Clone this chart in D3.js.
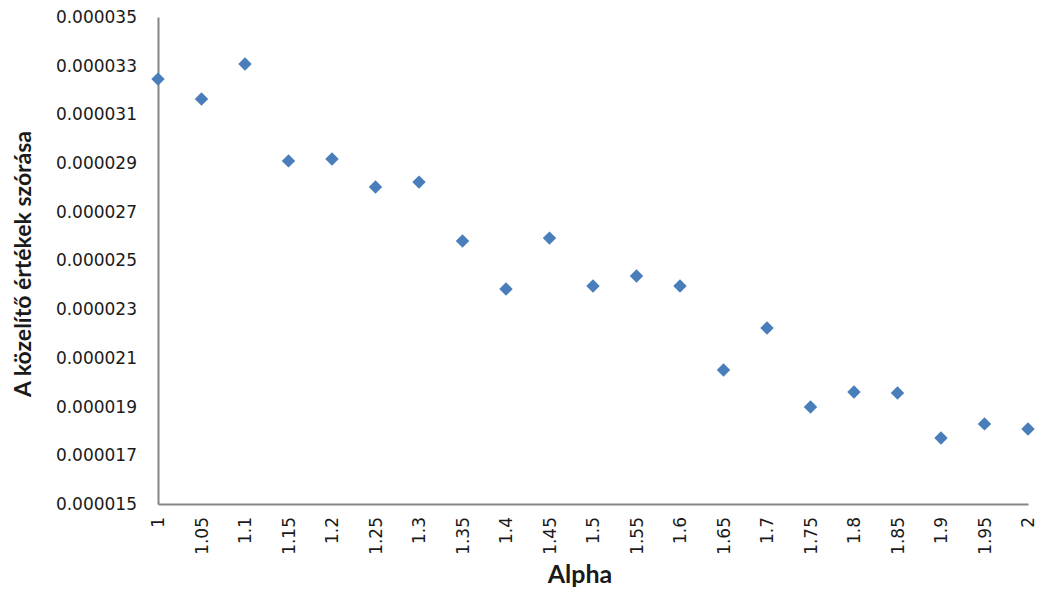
<!DOCTYPE html>
<html>
<head>
<meta charset="utf-8">
<script src="https://cdn.jsdelivr.net/npm/d3@7"></script>
<style>
  body { margin: 0; background: #fff; }
  text { fill: #1a1a1a; }
  .tick text { font-family: "DejaVu Sans", sans-serif; font-size: 17px; }
  .title { font-family: Lato, sans-serif; font-weight: bold; }
</style>
</head>
<body>
<div id="chart"></div>
<script>
var alphas = ["1","1.05","1.1","1.15","1.2","1.25","1.3","1.35","1.4","1.45","1.5",
              "1.55","1.6","1.65","1.7","1.75","1.8","1.85","1.9","1.95","2"];
var spread = [32.45e-6, 31.63e-6, 33.07e-6, 29.09e-6, 29.17e-6, 28.02e-6, 28.22e-6,
              25.8e-6, 23.83e-6, 25.92e-6, 23.95e-6, 24.36e-6, 23.95e-6, 20.5e-6,
              22.23e-6, 18.98e-6, 19.6e-6, 19.56e-6, 17.71e-6, 18.29e-6, 18.08e-6];
var yTicks = [15e-6, 17e-6, 19e-6, 21e-6, 23e-6, 25e-6, 27e-6, 29e-6, 31e-6, 33e-6, 35e-6];

var width = 1040, height = 594;
var margin = { top: 17, right: 12, bottom: 90, left: 158 };

var svg = d3.select("#chart").append("svg")
    .attr("width", width)
    .attr("height", height);

var x = d3.scalePoint()
    .domain(alphas)
    .range([margin.left, width - margin.right]);

var y = d3.scaleLinear()
    .domain([15e-6, 35e-6])
    .range([height - margin.bottom, margin.top]);

// y axis, no tick marks
var yAxis = svg.append("g")
    .attr("transform", "translate(" + margin.left + ",0)")
    .call(d3.axisLeft(y).tickValues(yTicks).tickSize(0).tickPadding(21)
        .tickFormat(function(d) { return d3.format(".6f")(d); }));
yAxis.select(".domain").attr("stroke", "#868686").attr("stroke-width", 2);
yAxis.selectAll("text").attr("fill", "#1a1a1a");

// x axis, labels turned upright
var xAxis = svg.append("g")
    .attr("transform", "translate(0," + (height - margin.bottom) + ")")
    .call(d3.axisBottom(x).tickSize(0));
xAxis.select(".domain").attr("stroke", "#868686").attr("stroke-width", 2);
xAxis.selectAll("text")
    .attr("fill", "#1a1a1a")
    .attr("transform", "rotate(-90)")
    .attr("x", -13)
    .attr("y", 0)
    .attr("dy", "0.35em")
    .style("text-anchor", "end");

svg.selectAll(".pt")
    .data(spread)
    .enter()
    .append("path")
    .attr("class", "pt")
    .attr("d", d3.symbol().type(d3.symbolDiamond2).size(115))
    .attr("transform", function(d, i) { return "translate(" + x(alphas[i]) + "," + y(d) + ")"; })
    .attr("fill", "#4a7ebb");

svg.append("text")
    .attr("class", "title")
    .attr("x", 580)
    .attr("y", 583)
    .style("text-anchor", "middle")
    .style("font-size", "25px")
    .text("Alpha");

svg.append("text")
    .attr("class", "title")
    .attr("transform", "translate(31,264)rotate(-90)")
    .style("text-anchor", "middle")
    .style("font-size", "23px")
    .text("A közelítő értékek szórása");
</script>
</body>
</html>
